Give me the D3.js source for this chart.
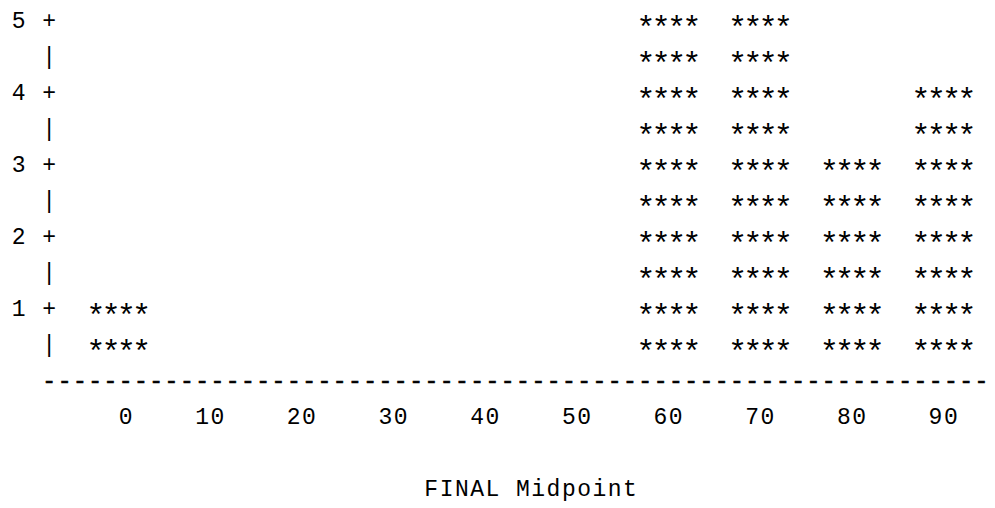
<!DOCTYPE html>
<html>
<head>
<meta charset="utf-8">
<script src="https://cdn.jsdelivr.net/npm/d3@7"></script>
<style>
  html, body { margin: 0; padding: 0; background: #fff; }
  svg text { font-family: "Liberation Mono", "DejaVu Sans Mono", monospace; fill: #000; white-space: pre; }
</style>
</head>
<body>
<svg id="chart" width="995" height="508"></svg>
<script>
// ---- data ----
const midpoints = [0, 10, 20, 30, 40, 50, 60, 70, 80, 90];
const counts    = [1, 0, 0, 0, 0, 0, 5, 5, 3, 4];
const yTicks    = [1, 2, 3, 4, 5];
const xTickLabels = ["0", "10", "20", "30", "40", "50", "60", "70", "80", "90"];
const xTitle = "FINAL Midpoint";

// ---- character grid ----
const W = 995, H = 508;
const charW = 15.28, x0 = 11.8;        // monospace cell width and left origin
const rowH = 36, row0 = 20.5;          // row pitch and cap-centre of first row
const fontSize = 23;
const capHalf = 7.9;
const colX = c => x0 + c * charW;
const rowY = r => row0 + r * rowH + capHalf;   // baseline of text row

const svg = d3.select("#chart");
const g = svg.append("g");

// scales: x maps midpoint to start column of bar; y maps count level to text row baseline
// (one count unit = two text rows)
const x = d3.scaleLinear().domain([0, 90]).range([colX(5), colX(59)]);
const y = d3.scaleLinear().domain([0, 5]).range([rowY(10), rowY(0)]);

function txt(xp, yp, s, fs) {
  fs = fs || fontSize;
  return g.append("text")
    .attr("x", xp).attr("y", yp)
    .attr("font-size", fs)
    .attr("letter-spacing", charW - fs * 0.6)
    .attr("xml:space", "preserve")
    .text(s);
}

// y axis: "+" at integer levels with labels, "|" at half levels
yTicks.forEach(v => {
  txt(colX(0), y(v), String(v));
  txt(colX(2), y(v), "+");
  txt(colX(2), y(v - 0.5), "|");
});

// bars: one "****" per half unit (larger asterisks, lowered to sit mid-row)
const starFs = 32;
const starDx = -(starFs * 0.6 - charW) / 2;
const starDy = 9.2;
midpoints.forEach((m, i) => {
  const c = counts[i];
  for (let k = 1; k <= c * 2; k++) {
    txt(x(m) + starDx, y(k / 2) + starDy, "****", starFs);
  }
});

// x axis line of dashes (spans to the right edge of the picture)
const nDash = Math.floor((W - colX(2)) / charW);
txt(colX(2), y(0), "-".repeat(nDash)).attr("stroke", "#000").attr("stroke-width", 0.6);

// x tick labels, right-aligned two columns right of bar start (one row below axis)
midpoints.forEach((m, i) => {
  const s = xTickLabels[i];
  txt(x(m) + (3 - s.length) * charW, y(-0.5), s);
});

// axis title (three rows below axis)
txt(colX(27), y(-1.5), xTitle);
</script>
</body>
</html>
